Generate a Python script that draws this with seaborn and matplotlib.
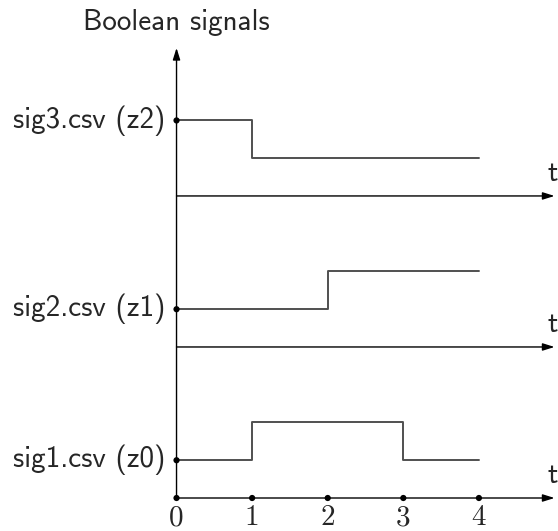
import seaborn as sns
import pandas as pd
import matplotlib.pyplot as plt

# signal data (value at each time, held until next time)
times = [0, 1, 2, 3, 4]
sig1 = [0, 1, 1, 0, 0]
sig2 = [0, 0, 1, 1, 1]
sig3 = [1, 0, 0, 0, 0]
names = ['sig1.csv (z0)', 'sig2.csv (z1)', 'sig3.csv (z2)']
tick_labels = ['0', '1', '2', '3', '4']

sns.set_style('white')
plt.rcParams['font.family'] = ['cmss10', 'DejaVu Sans']

fig = plt.figure(figsize=(5.58, 5.31), dpi=100)
ax = fig.add_axes([0, 0, 1, 1])
ax.set_xlim(-2.335, 5.046)
ax.set_ylim(-0.874, 13.19)
ax.axis('off')

rows = []
for i, (name, vals) in enumerate(zip(names, [sig1, sig2, sig3])):
    for t, v in zip(times, vals):
        rows.append({'name': name, 't': t, 'level': 4 * i + 1 + v})
df = pd.DataFrame(rows)

dot_y = []
for i, (name, vals) in enumerate(zip(names, [sig1, sig2, sig3])):
    base = 4 * i
    sub = df[df['name'] == name]
    sns.lineplot(data=sub, x='t', y='level', ax=ax, drawstyle='steps-post',
                 color='#505050', lw=1.4, estimator=None, legend=False)
    # time axis for this signal
    ax.annotate('', xy=(5, base), xytext=(0, base),
                arrowprops=dict(arrowstyle='-|>,head_length=0.7,head_width=0.22',
                                color='black', lw=1.0, shrinkA=0, shrinkB=0))
    ax.text(4.97, base + 0.25, 't', fontsize=21, ha='center', va='bottom')
    # label at the starting level
    start = base + 1 + vals[0]
    dot_y.append(start)
    ax.text(-0.15, start, name, fontsize=21, ha='right', va='center')

dots = pd.DataFrame({'t': [0] * len(dot_y) + times,
                     'y': dot_y + [0] * len(times)})
sns.scatterplot(data=dots, x='t', y='y', ax=ax, color='black', s=20,
                edgecolor='none', zorder=5)

# vertical axis
ax.annotate('', xy=(0, 11.92), xytext=(0, 0),
            arrowprops=dict(arrowstyle='-|>,head_length=0.7,head_width=0.22',
                            color='black', lw=1.0, shrinkA=0, shrinkB=0))
ax.text(0, 12.6, 'Boolean signals', fontsize=21, ha='center', va='center')

for t, lab in zip(times, tick_labels):
    ax.text(t, -0.53, lab, fontsize=21, family='cmr10', ha='center', va='center')

fig.savefig('out.png', dpi=100)
